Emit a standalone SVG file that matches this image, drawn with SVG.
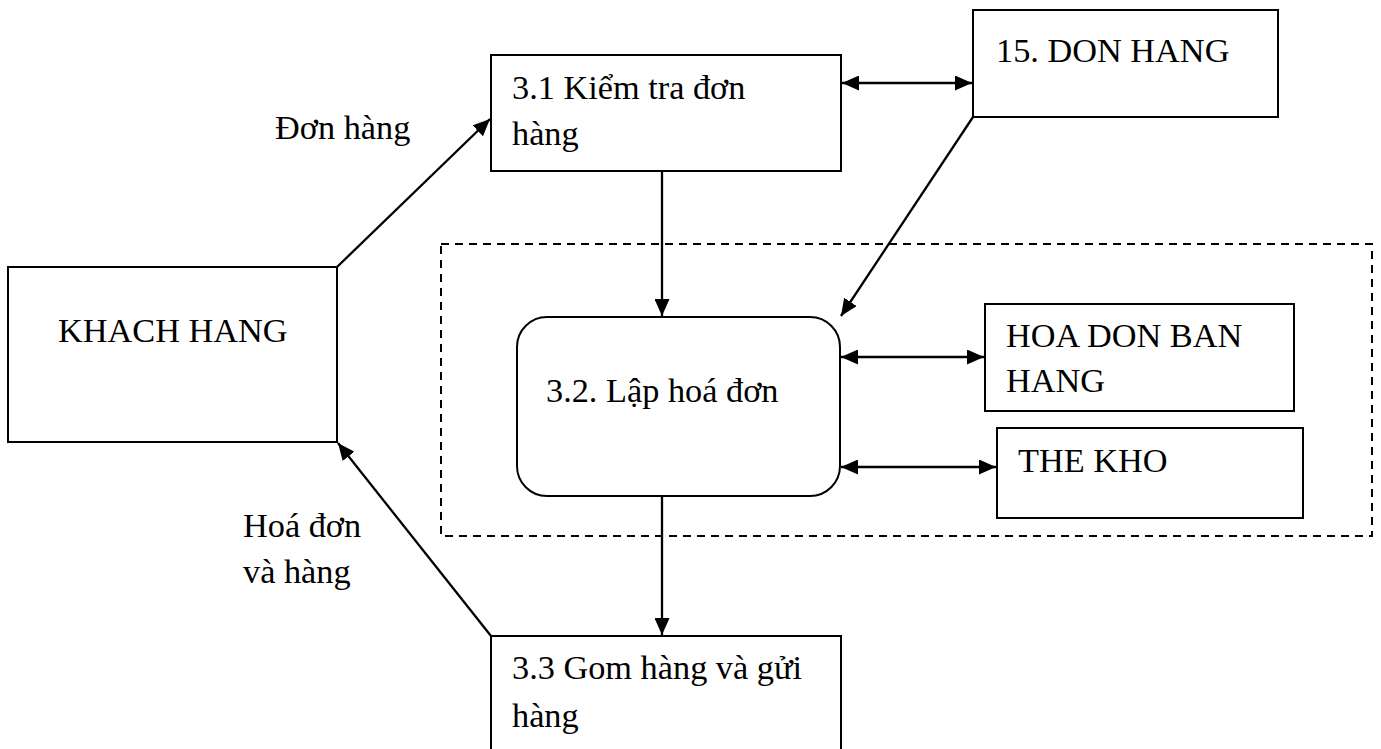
<svg xmlns="http://www.w3.org/2000/svg" width="1381" height="749" viewBox="0 0 1381 749">
  <style>
    .box { fill: #fff; stroke: #000; stroke-width: 2; }
    .lbl { font-family: "Liberation Serif", "Times New Roman", serif; font-size: 34.3px; fill: #000; }
    .flow { fill: none; stroke: #000; stroke-width: 2.3; }
    .scope { fill: none; stroke: #000; stroke-width: 2; stroke-dasharray: 8 6; }
  </style>
  <defs>
    <marker id="arrow" viewBox="0 0 17 15" refX="17" refY="7.5" markerWidth="17" markerHeight="15" markerUnits="userSpaceOnUse" orient="auto-start-reverse">
      <path d="M0,0 L17,7.5 L0,15 z" fill="#000"/>
    </marker>
  </defs>
  <rect width="1381" height="749" fill="#fff"/>

  <!-- dashed boundary around invoicing process and its stores -->
  <rect id="scope" class="scope" x="441" y="244" width="931" height="292"/>

  <g id="khach-hang">
    <rect class="box" x="8" y="267" width="329" height="175"/>
    <text class="lbl" x="58" y="342">KHACH HANG</text>
  </g>

  <g id="kiem-tra">
    <rect class="box" x="491" y="55" width="350" height="116"/>
    <text class="lbl" x="512" y="99">3.1 Kiểm tra đơn</text>
    <text class="lbl" x="512" y="145">hàng</text>
  </g>

  <g id="don-hang">
    <rect class="box" x="973" y="10" width="305" height="107"/>
    <text class="lbl" x="996" y="62">15. DON HANG</text>
  </g>

  <g id="lap-hoa-don">
    <rect class="box" x="517" y="317" width="323" height="179" rx="30" ry="30"/>
    <text class="lbl" x="546" y="402">3.2. Lập hoá đơn</text>
  </g>

  <g id="hoa-don-ban-hang">
    <rect class="box" x="985" y="304" width="309" height="107"/>
    <text class="lbl" x="1006" y="347">HOA DON BAN</text>
    <text class="lbl" x="1006" y="392">HANG</text>
  </g>

  <g id="the-kho">
    <rect class="box" x="997" y="428" width="306" height="90"/>
    <text class="lbl" x="1018" y="472">THE KHO</text>
  </g>

  <g id="gom-hang">
    <rect class="box" x="491" y="636" width="350" height="130"/>
    <text class="lbl" x="512" y="679">3.3 Gom hàng và gửi</text>
    <text class="lbl" x="512" y="727">hàng</text>
  </g>

  <g id="connectors">
    <line class="flow" x1="337" y1="267" x2="490" y2="119" marker-end="url(#arrow)"/>
    <line class="flow" x1="842" y1="83" x2="972" y2="83" marker-start="url(#arrow)" marker-end="url(#arrow)"/>
    <line class="flow" x1="662" y1="171" x2="662" y2="316" marker-end="url(#arrow)"/>
    <line class="flow" x1="973" y1="117" x2="841" y2="316" marker-end="url(#arrow)"/>
    <line class="flow" x1="841" y1="357" x2="984" y2="357" marker-start="url(#arrow)" marker-end="url(#arrow)"/>
    <line class="flow" x1="841" y1="467" x2="996" y2="467" marker-start="url(#arrow)" marker-end="url(#arrow)"/>
    <line class="flow" x1="662" y1="496" x2="662" y2="635" marker-end="url(#arrow)"/>
    <line class="flow" x1="491" y1="636" x2="338" y2="443" marker-end="url(#arrow)"/>
  </g>

  <g id="flow-labels">
    <text class="lbl" x="275" y="139">Đơn hàng</text>
    <text class="lbl" x="243" y="537">Hoá đơn</text>
    <text class="lbl" x="243" y="583">và hàng</text>
  </g>
</svg>
